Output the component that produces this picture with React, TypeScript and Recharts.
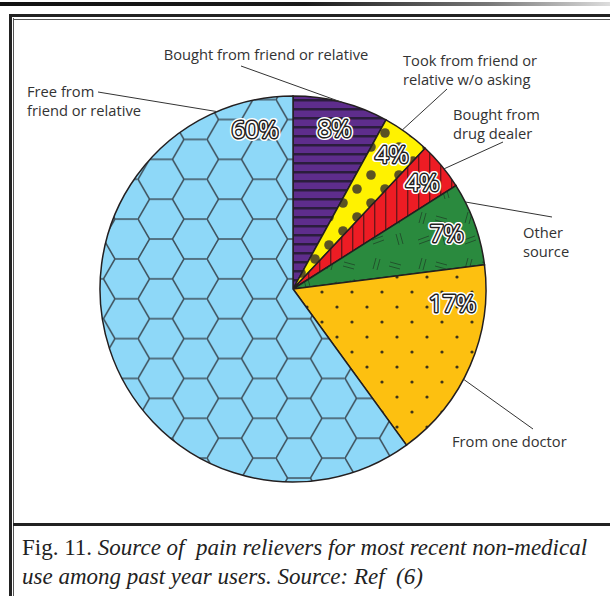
import { Cell, Pie, PieChart } from "recharts";

const categories = [
    "Bought from friend or relative",
    "Took from friend or relative w/o asking",
    "Bought from drug dealer",
    "Other source",
    "From one doctor",
    "Free from friend or relative",
];
const shares = [8, 4, 4, 7, 17, 60];
const nameLines = [
    ["Bought from friend or relative"],
    ["Took from friend or", "relative w/o asking"],
    ["Bought from", "drug dealer"],
    ["Other", "source"],
    ["From one doctor"],
    ["Free from", "friend or relative"],
];

const FILLS = ["url(#pPurple)", "url(#pYellow)", "url(#pRed)", "url(#pGreen)", "url(#pOrange)", "url(#pBlue)"];

const CX = 293;
const CY = 289;
const R = 193;
const RAD = Math.PI / 180;

// percent labels: shift from slice mid angle (deg) and radius
const PCT_POS = [
    { shift: 0, r: 167 },
    { shift: 0, r: 168 },
    { shift: 0, r: 168 },
    { shift: 0.5, r: 164 },
    { shift: 18.4, r: 160 },
    { shift: -94.7, r: 165 },
];

// callouts: edge angle (clockwise from top), line end and text origin relative to centre
const CALLOUTS = [
    { edge: 14.7, end: [-52, -223], text: [-27, -229], anchor: "middle" },
    { edge: 34.5, end: [154, -200], text: [110, -223], anchor: "start" },
    { edge: 51.5, end: [210, -147], text: [160, -169], anchor: "start" },
    { edge: 63.2, end: [259, -72], text: [230, -51], anchor: "start" },
    { edge: 117.9, end: [240, 140], text: [159, 158], anchor: "start" },
    { edge: 336.8, end: [-195, -197], text: [-266, -192], anchor: "start" },
];

const data = categories.map((name, i) => ({ name, value: shares[i] }));

const S = 23;
const H = Math.sqrt(3) * S;

function Patterns() {
    return (
        <svg width={0} height={0} style={{ position: "absolute" }}>
            <defs>
                <pattern id="pPurple" patternUnits="userSpaceOnUse" width={20} height={9}>
                    <rect width={20} height={9} fill="#5e2d8c" />
                    <rect y={0} width={20} height={2.5} fill="#2b1d3d" />
                </pattern>
                <pattern id="pYellow" patternUnits="userSpaceOnUse" width={28} height={28}>
                    <rect width={28} height={28} fill="#fff200" />
                    <circle cx={7} cy={7} r={4.8} fill="#5b5323" />
                    <circle cx={21} cy={21} r={4.8} fill="#5b5323" />
                </pattern>
                <pattern id="pRed" patternUnits="userSpaceOnUse" width={11} height={20}>
                    <rect width={11} height={20} fill="#ed1c24" />
                    <rect x={0} width={1.4} height={20} fill="#6e1519" />
                </pattern>
                <pattern id="pGreen" patternUnits="userSpaceOnUse" width={46} height={46}>
                    <rect width={46} height={46} fill="#2a8a3e" />
                    <g stroke="#1f4c29" strokeWidth={0.9} fill="none">
                        <path d="M4 10 l11 -4 M5 14 l11 -4" />
                        <path d="M28 4 l3 11 M32 3 l3 11" />
                        <path d="M22 32 l11 3 M21 36 l11 3" />
                        <path d="M8 28 l-3 11 M12 29 l-3 11" />
                    </g>
                </pattern>
                <pattern id="pOrange" patternUnits="userSpaceOnUse" width={30} height={30}>
                    <rect width={30} height={30} fill="#fdc010" />
                    <circle cx={7} cy={7} r={1.6} fill="#3e3318" />
                    <circle cx={22} cy={22} r={1.6} fill="#3e3318" />
                </pattern>
                <pattern id="pBlue" patternUnits="userSpaceOnUse" width={3 * S} height={H}>
                    <rect width={3 * S} height={H} fill="#8ed8f8" />
                    <path
                        d={`M${S / 2} 0 L${1.5 * S} 0 L${2 * S} ${H / 2} L${1.5 * S} ${H} L${S / 2} ${H} L0 ${H / 2} Z M${2 * S} ${H / 2} L${3 * S} ${H / 2}`}
                        stroke="#3f525e"
                        strokeWidth={1.5}
                        fill="none"
                    />
                </pattern>
            </defs>
        </svg>
    );
}

function renderLabel(props: any) {
    const { cx, cy, midAngle, index } = props;
    const pos = PCT_POS[index];
    const a = -(midAngle + pos.shift) * RAD;
    const px = cx + Math.cos(a) * pos.r;
    const py = cy + Math.sin(a) * pos.r;
    const c = CALLOUTS[index];
    const e = c.edge * RAD;
    const ex = cx + Math.sin(e) * R;
    const ey = cy - Math.cos(e) * R;
    const pct = `${shares[index]}%`;
    return (
        <g key={`lbl-${index}`}>
            <line x1={ex} y1={ey} x2={cx + c.end[0]} y2={cy + c.end[1]} stroke="#333" strokeWidth={1} />
            <text
                x={cx + c.text[0]}
                y={cy + c.text[1]}
                textAnchor={c.anchor as any}
                fontFamily="'Open Sans', sans-serif"
                fontSize={14.7}
                fill="#333"
            >
                {nameLines[index].map((ln, j) => (
                    <tspan key={j} x={cx + c.text[0]} dy={j === 0 ? 0 : 19}>
                        {ln}
                    </tspan>
                ))}
            </text>
            <text
                x={px}
                y={py}
                textAnchor="middle"
                dominantBaseline="central"
                fontFamily="'Open Sans', sans-serif"
                fontSize={24}
                fontWeight={500}
                fill="#fff"
                stroke="#fff"
                strokeWidth={6}
                strokeLinejoin="round"
            >
                {pct}
            </text>
            <text
                x={px}
                y={py}
                textAnchor="middle"
                dominantBaseline="central"
                fontFamily="'Open Sans', sans-serif"
                fontSize={24}
                fontWeight={500}
                fill="#fff"
                stroke="#231f20"
                strokeWidth={3}
                strokeLinejoin="round"
                style={{ paintOrder: "stroke" }}
            >
                {pct}
            </text>
        </g>
    );
}

export default function App() {
    return (
        <div style={{ position: "absolute", left: 0, top: 0, width: 610, height: 596, background: "#fff", overflow: "hidden" }}>
            <Patterns />
            <div
                style={{
                    position: "absolute",
                    left: 0,
                    top: 2,
                    width: 610,
                    height: 4,
                    background: "linear-gradient(to right, #111 0%, #1a1a1a 50%, #777 80%, #ddd 100%)",
                }}
            />
            <div style={{ position: "absolute", left: 9, top: 14, width: 3, height: 582, background: "#222" }} />
            <div style={{ position: "absolute", left: 13, top: 18, width: 1, height: 578, background: "#555" }} />
            <div style={{ position: "absolute", left: 9, top: 14, width: 601, height: 2.5, background: "#222" }} />
            <div style={{ position: "absolute", left: 13, top: 18.5, width: 597, height: 1, background: "#555" }} />
            <div style={{ position: "absolute", left: 13, top: 523, width: 597, height: 3, background: "#222" }} />

            <div style={{ position: "absolute", left: 0, top: 0 }}>
                <PieChart width={610} height={520} margin={{ top: 0, right: 0, bottom: 0, left: 0 }}>
                    <Pie
                        data={data}
                        dataKey="value"
                        nameKey="name"
                        cx={CX}
                        cy={CY}
                        outerRadius={R}
                        startAngle={90}
                        endAngle={-270}
                        stroke="#231f20"
                        strokeWidth={1.5}
                        label={renderLabel}
                        labelLine={false}
                        isAnimationActive={false}
                    >
                        {data.map((entry, index) => (
                            <Cell key={entry.name} fill={FILLS[index]} />
                        ))}
                    </Pie>
                </PieChart>
            </div>

            <div
                style={{
                    position: "absolute",
                    left: 22,
                    top: 533,
                    width: 590,
                    fontFamily: "'Liberation Serif', serif",
                    fontSize: 23,
                    lineHeight: "29px",
                    color: "#222",
                    whiteSpace: "nowrap",
                }}
            >
                Fig. 11. <i>Source of&nbsp; pain relievers for most recent non-medical</i>
                <br />
                <i>use among past year users. Source: Ref&nbsp; (6)</i>
            </div>
        </div>
    );
}
